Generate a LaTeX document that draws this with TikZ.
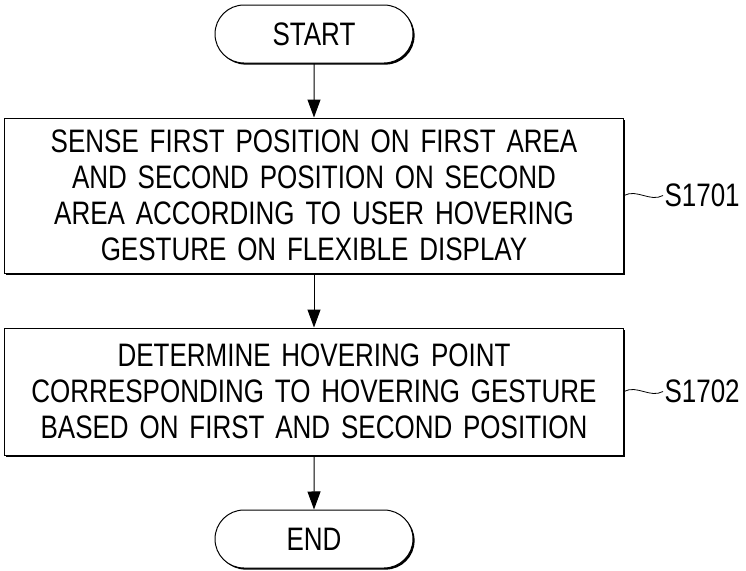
\documentclass[tikz,border=0pt]{standalone}
\usepackage{fontspec}
\setmainfont{Liberation Sans}[FakeStretch=0.80]
\usetikzlibrary{arrows.meta,shadows,positioning,shapes.misc}

\begin{document}
\begin{tikzpicture}[>={Triangle[length=18pt,width=13pt]},line width=1pt,
                    node distance=54pt,font=\fontsize{32.5}{36}\selectfont,
                    shade/.style={drop shadow={shadow xshift=1.6pt,shadow yshift=-1.6pt,
                                               fill=black,opacity=1}},
                    term/.style={draw,fill=white,rounded rectangle,shade,
                                 minimum width=198pt,minimum height=58pt,inner sep=0pt},
                    proc/.style={draw,fill=white,rectangle,shade,align=center,
                                 text width=600pt,minimum width=619pt,inner sep=0pt},
                    tag/.style={inner sep=1pt}]

        \useasboundingbox (0,0) rectangle (746pt,-570pt);

        \node[term] (start) at (314pt,-34pt) {START};
        \node[proc,minimum height=155pt] (sense) [below=of start]
             {SENSE FIRST POSITION ON FIRST AREA\\AND SECOND POSITION ON SECOND\\
              AREA ACCORDING TO USER HOVERING\\GESTURE ON FLEXIBLE DISPLAY};
        \node[proc,minimum height=127pt] (hover) [below=of sense]
             {DETERMINE HOVERING POINT\\CORRESPONDING TO HOVERING GESTURE\\
              BASED ON FIRST AND SECOND POSITION};
        \node[term] (stop) [below=of hover] {END};

        \node[tag] (s1701) [right=39pt of sense] {S1701};
        \node[tag] (s1702) [right=39pt of hover] {S1702};

        \path (start) edge [->] (sense)
              (sense) edge [->] (hover)
              (hover) edge [->] (stop);

        \draw[line width=0.8pt] (sense.east) .. controls +(13pt,7pt) and +(-13pt,-7pt) .. (s1701.west);
        \draw[line width=0.8pt] (hover.east) .. controls +(13pt,7pt) and +(-13pt,-7pt) .. (s1702.west);
      \end{tikzpicture}
\end{document}
